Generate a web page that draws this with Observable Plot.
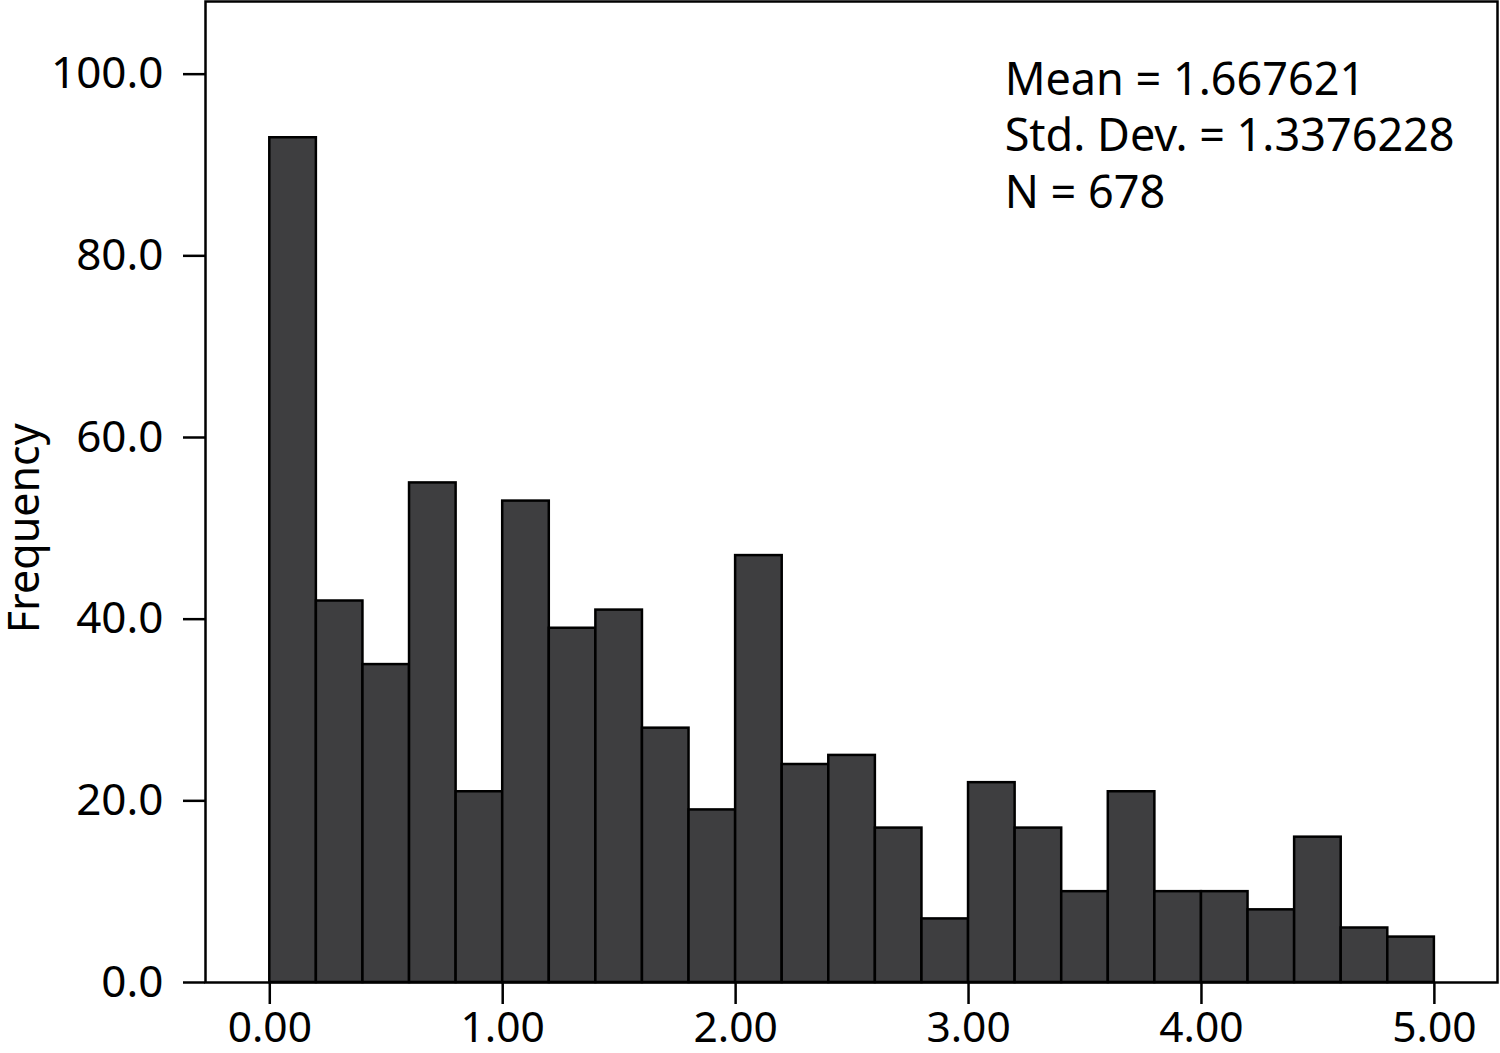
<!DOCTYPE html>
<html>
<head>
<meta charset="utf-8">
<script src="https://cdn.jsdelivr.net/npm/d3@7"></script>
<script src="https://cdn.jsdelivr.net/npm/@observablehq/plot@0.6"></script>
<style>
  html, body { margin: 0; padding: 0; background: #fff; }
  #chart svg { display: block; }
</style>
</head>
<body>
<div id="chart"></div>
<script>
// ---- Data ----
const binStarts = [0.0, 0.2, 0.4, 0.6, 0.8, 1.0, 1.2, 1.4, 1.6, 1.8, 2.0, 2.2, 2.4, 2.6, 2.8, 3.0, 3.2, 3.4, 3.6, 3.8, 4.0, 4.2, 4.4, 4.6, 4.8];
const binEnds   = [0.2, 0.4, 0.6, 0.8, 1.0, 1.2, 1.4, 1.6, 1.8, 2.0, 2.2, 2.4, 2.6, 2.8, 3.0, 3.2, 3.4, 3.6, 3.8, 4.0, 4.2, 4.4, 4.6, 4.8, 5.0];
const frequencies = [93, 42, 35, 55, 21, 53, 39, 41, 28, 19, 47, 24, 25, 17, 7, 22, 17, 10, 21, 10, 10, 8, 16, 6, 5];
const xTicks = [0, 1, 2, 3, 4, 5];
const yTicks = [0, 20, 40, 60, 80, 100];
const statsLines = ["Mean = 1.667621", "Std. Dev. = 1.3376228", "N = 678"];
const yLabel = "Frequency";

const bins = binStarts.map((s, i) => ({x1: s, x2: binEnds[i], count: frequencies[i]}));

const chart = Plot.plot({
  width: 1500,
  height: 1053,
  marginLeft: 205,
  marginRight: 3,
  marginTop: 1,
  marginBottom: 71,
  style: {fontFamily: "'Noto Sans', 'Open Sans', sans-serif", fontSize: "44px", color: "#000", background: "#fff"},
  x: {domain: [-0.276, 5.271]},
  y: {domain: [0, 108.0]},
  marks: [
    Plot.rectY(bins, {x1: "x1", x2: "x2", y: "count", fill: "#3e3e40", stroke: "#000", strokeWidth: 2.5, inset: 0}),
    Plot.frame({stroke: "#000", strokeWidth: 2.5}),
    Plot.axisY({ticks: yTicks, tickFormat: d3.format(".1f"), tickSize: 22, tickPadding: 20, strokeWidth: 2.5, label: null, fontSize: 44}),
    Plot.axisX({ticks: xTicks, tickFormat: d3.format(".2f"), tickSize: 22, tickPadding: 7, strokeWidth: 2.5, label: null, fontSize: 42.5}),
    Plot.text([yLabel], {y: [50], text: d => d, frameAnchor: "left", dx: -180, rotate: -90, textAnchor: "middle", lineAnchor: "middle", fontSize: 43}),
    Plot.text([statsLines.join("\n")], {x: [3.155], y: [102.15], text: d => d, textAnchor: "start", lineAnchor: "top", lineHeight: 1.255, fontSize: 45})
  ]
});
document.getElementById("chart").appendChild(chart);
</script>
</body>
</html>
